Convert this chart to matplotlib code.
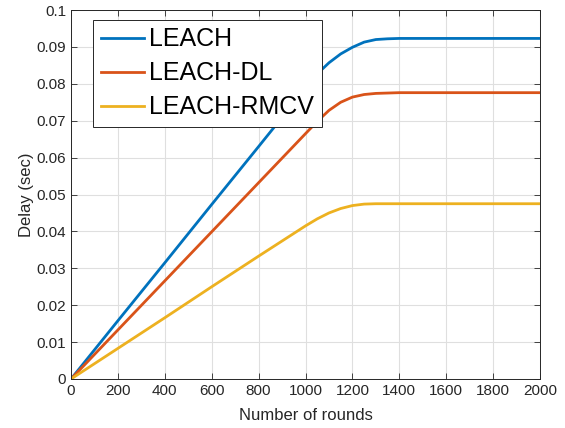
import numpy as np
import matplotlib
matplotlib.use("Agg")
from matplotlib import pyplot as plt

rounds = [0, 200, 400, 600, 800, 1000, 1050, 1100, 1150, 1200, 1250, 1300,
          1350, 1400, 1600, 1800, 2000]
leach = [0, 0.0158, 0.0315, 0.0473, 0.0630, 0.0788, 0.0827, 0.0857, 0.0881,
         0.0899, 0.0913, 0.0920, 0.0922, 0.0923, 0.0923, 0.0923, 0.0923]
leach_dl = [0, 0.0133, 0.0266, 0.0399, 0.0532, 0.0665, 0.0698, 0.0728, 0.0750,
            0.0764, 0.0771, 0.0774, 0.0775, 0.0776, 0.0776, 0.0776, 0.0776]
leach_rmcv = [0, 0.0083, 0.0166, 0.0250, 0.0333, 0.0415, 0.0434, 0.0450, 0.0462,
              0.0470, 0.0474, 0.0475, 0.0475, 0.0475, 0.0475, 0.0475, 0.0475]
labels = ["LEACH", "LEACH-DL", "LEACH-RMCV"]
colors = ["#0072BD", "#D95319", "#EDB120"]

plt.rcParams['font.family'] = ['Liberation Sans', 'DejaVu Sans']

fig = plt.figure(figsize=(5.65, 4.28), dpi=100)
ax = fig.add_axes([0.1257, 0.1145, 0.8301, 0.8621])

for y, lab, c in zip([leach, leach_dl, leach_rmcv], labels, colors):
    ax.plot(rounds, y, color=c, linewidth=2.0, label=lab)

ax.set_xlim(0, 2000)
ax.set_ylim(0, 0.1)
ax.set_xticks(np.arange(0, 2001, 200))
ax.set_yticks(np.arange(0, 0.1001, 0.01))
ax.set_yticklabels(["0"] + ["%g" % v for v in np.arange(0.01, 0.1001, 0.01).round(2)])
ax.tick_params(direction='in', top=True, right=True, labelsize=11,
               length=4, width=0.6, colors='#262626', labelcolor='#262626')
ax.grid(True, color='#dfdfdf', linewidth=0.8)
ax.set_axisbelow(True)
for s in ax.spines.values():
    s.set_color('#262626')
    s.set_linewidth(0.7)

ax.set_xlabel("Number of rounds", fontsize=12, color='#262626', labelpad=7)
ax.set_ylabel("Delay (sec)", fontsize=12, color='#262626', labelpad=2)

leg = ax.legend(loc='upper left', bbox_to_anchor=(0.047, 0.973), fontsize=18,
                frameon=True, fancybox=False, edgecolor='#262626',
                handlelength=1.75, handletextpad=0.2, labelspacing=0.4,
                borderpad=0.3, borderaxespad=0)
leg.get_frame().set_linewidth(0.7)
leg.get_frame().set_alpha(1)

fig.savefig("out.png", dpi=100)
